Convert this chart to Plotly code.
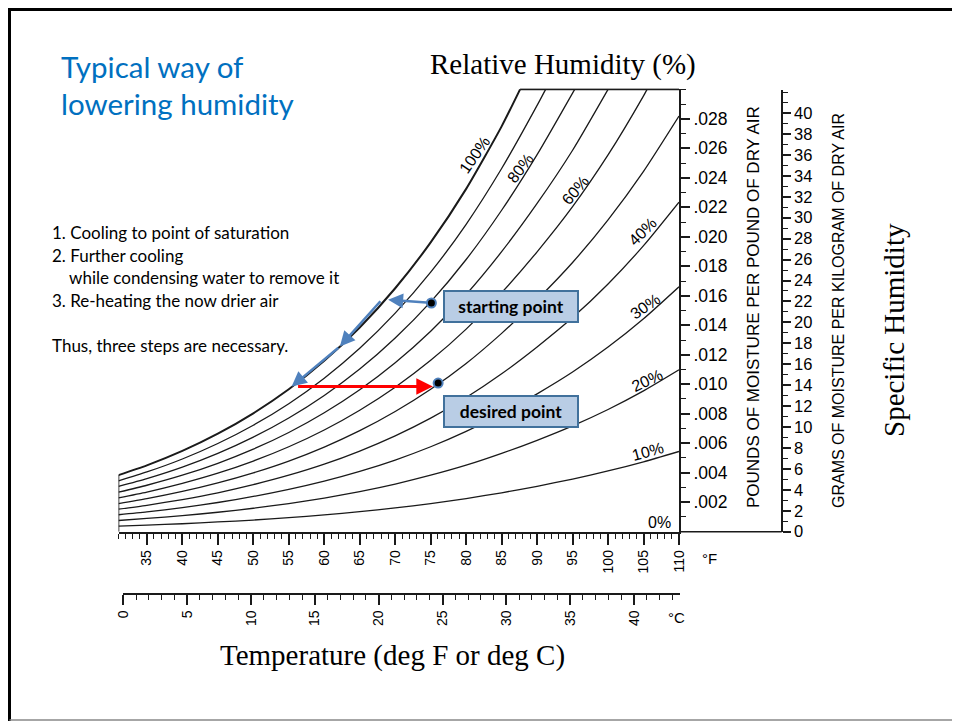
import plotly.graph_objects as go

# ---- data ----
TEMPS_F = [31, 35, 40, 45, 50, 55, 60, 65, 70, 75, 80, 85, 90, 95, 100, 105, 110]

# humidity ratio (lb water / lb dry air) along each relative-humidity curve
RH_10 = [0.00038, 0.00045, 0.00054, 0.00066, 0.00079, 0.00095, 0.00114, 0.00136, 0.00161,
         0.00191, 0.00225, 0.00264, 0.00308, 0.00357, 0.00412, 0.00474, 0.00544]
RH_20 = [0.00076, 0.00090, 0.00109, 0.00132, 0.00159, 0.00191, 0.00228, 0.00272, 0.00323,
         0.00383, 0.00451, 0.00531, 0.00620, 0.00718, 0.00829, 0.00955, 0.01098]
RH_30 = [0.00115, 0.00134, 0.00163, 0.00198, 0.00239, 0.00287, 0.00343, 0.00409, 0.00486,
         0.00576, 0.00680, 0.00800, 0.00935, 0.01083, 0.01252, 0.01444, 0.01661]
RH_40 = [0.00153, 0.00179, 0.00218, 0.00264, 0.00319, 0.00383, 0.00458, 0.00547, 0.00650,
         0.00770, 0.00910, 0.01071, 0.01253, 0.01452, 0.01680, 0.01940, 0.02235]
RH_50 = [0.00191, 0.00224, 0.00273, 0.00331, 0.00399, 0.00479, 0.00574, 0.00685, 0.00815,
         0.00966, 0.01141, 0.01345, 0.01574, 0.01826, 0.02115, 0.02444, 0.02819]
# the upper curves run into the top of the chart, so they end early
RH_60_T = [31, 35, 40, 45, 50, 55, 60, 65, 70, 75, 80, 85, 90, 95, 100, 105, 105.5]
RH_60 = [0.00230, 0.00269, 0.00328, 0.00397, 0.00479, 0.00576, 0.00690, 0.00824, 0.00980,
         0.01162, 0.01374, 0.01621, 0.01898, 0.02204, 0.02555, 0.02956, 0.030]
RH_70_T = [31, 35, 40, 45, 50, 55, 60, 65, 70, 75, 80, 85, 90, 95, 100]
RH_70 = [0.00268, 0.00315, 0.00383, 0.00464, 0.00560, 0.00673, 0.00807, 0.00963, 0.01146,
         0.01360, 0.01609, 0.01899, 0.02226, 0.02587, 0.030]
RH_80_T = [31, 35, 40, 45, 50, 55, 60, 65, 70, 75, 80, 85, 90, 95.3]
RH_80 = [0.00307, 0.00360, 0.00438, 0.00531, 0.00641, 0.00771, 0.00924, 0.01103, 0.01314,
         0.01559, 0.01846, 0.02180, 0.02557, 0.030]
RH_90_T = [31, 35, 40, 45, 50, 55, 60, 65, 70, 75, 80, 85, 90, 91.2]
RH_90 = [0.00345, 0.00405, 0.00493, 0.00598, 0.00722, 0.00868, 0.01041, 0.01244, 0.01482,
         0.01760, 0.02085, 0.02463, 0.02891, 0.030]
RH_100_T = [31, 35, 40, 45, 50, 55, 60, 65, 70, 75, 80, 85, 87.6]
RH_100 = [0.00384, 0.00450, 0.00548, 0.00665, 0.00803, 0.00966, 0.01159, 0.01385, 0.01651,
          0.01962, 0.02325, 0.02749, 0.030]
W_TOP = 0.030

F_TICKS = [35, 40, 45, 50, 55, 60, 65, 70, 75, 80, 85, 90, 95, 100, 105, 110]
C_TICKS = [0, 5, 10, 15, 20, 25, 30, 35, 40]
LB_TICKS = [0.002, 0.004, 0.006, 0.008, 0.010, 0.012, 0.014, 0.016, 0.018, 0.020, 0.022, 0.024, 0.026, 0.028]
LB_LABELS = [".002", ".004", ".006", ".008", ".010", ".012", ".014", ".016", ".018", ".020", ".022", ".024", ".026", ".028"]
G_TICKS = [0, 2, 4, 6, 8, 10, 12, 14, 16, 18, 20, 22, 24, 26, 28, 30, 32, 34, 36, 38, 40]

# dehumidification path: cool to saturation, cool further, reheat
START_F, START_W = 75.1, 0.01551
DESIRED_F, DESIRED_W = 76.05, 0.01008
STEP_FROM_F = [74.6, 68.1, 62.2, 56.1]
STEP_FROM_W = [0.01553, 0.01573, 0.01256, 0.00984]
STEP_TO_F = [69.0, 62.2, 55.4, 75.3]
STEP_TO_W = [0.01573, 0.01256, 0.00984, 0.00984]

# ---- layout helpers (screen pixel -> paper); the page body adds an 8px margin ----
W, H = 960, 721
PAGE_MARGIN = 8


def px(x):
    return (x - PAGE_MARGIN) / W


def py(y):
    return 1 - (y - PAGE_MARGIN) / H


SANS = "Liberation Sans, Arial, sans-serif"
SERIF = "Liberation Serif, Times New Roman, serif"
SLIDE = "Lato, Carlito, sans-serif"
BLUE = "#4F81BD"
INK = "#1a1a1a"

fig = go.Figure()

curves = [
    (TEMPS_F, RH_10), (TEMPS_F, RH_20), (TEMPS_F, RH_30), (TEMPS_F, RH_40), (TEMPS_F, RH_50),
    (RH_60_T, RH_60), (RH_70_T, RH_70), (RH_80_T, RH_80), (RH_90_T, RH_90), (RH_100_T, RH_100),
]
for i, (xs, ys) in enumerate(curves):
    fig.add_trace(go.Scatter(
        x=xs, y=ys, mode="lines", hoverinfo="skip",
        line=dict(color=INK, width=2.0 if i == len(curves) - 1 else 1.3, shape="spline", smoothing=0.6),
    ))

# chart frame: left edge up to the saturation curve, top edge from it to the right axis
fig.add_trace(go.Scatter(x=[TEMPS_F[0], TEMPS_F[0]], y=[0, RH_100[0]], mode="lines",
                         line=dict(color=INK, width=1.6), hoverinfo="skip"))
fig.add_trace(go.Scatter(x=[RH_100_T[-1], TEMPS_F[-1]], y=[W_TOP, W_TOP], mode="lines",
                         line=dict(color=INK, width=2), hoverinfo="skip"))

# start / desired points
fig.add_trace(go.Scatter(x=[START_F, DESIRED_F], y=[START_W, DESIRED_W], mode="markers",
                         marker=dict(size=9, color="black", line=dict(color=BLUE, width=2)),
                         hoverinfo="skip"))

# invisible traces so the extra scales get drawn
fig.add_trace(go.Scatter(x=C_TICKS, y=[None] * len(C_TICKS), xaxis="x2", yaxis="y",
                         mode="markers", marker=dict(opacity=0), hoverinfo="skip"))
fig.add_trace(go.Scatter(x=[None] * len(G_TICKS), y=G_TICKS, xaxis="x", yaxis="y2",
                         mode="markers", marker=dict(opacity=0), hoverinfo="skip"))

ann = []
for k in range(len(STEP_FROM_F)):
    red = k == len(STEP_FROM_F) - 1
    ann.append(dict(x=STEP_TO_F[k], y=STEP_TO_W[k], ax=STEP_FROM_F[k], ay=STEP_FROM_W[k],
                    xref="x", yref="y", axref="x", ayref="y", text="", showarrow=True,
                    arrowhead=2, arrowsize=1.1 if red else 1.2, arrowwidth=3 if red else 2.5,
                    arrowcolor="#FF0000" if red else BLUE))


def label(text, x, y, size, family=SANS, color="black", angle=0, xanchor="center", **kw):
    ann.append(dict(text=text, x=px(x), y=py(y), xref="paper", yref="paper", showarrow=False,
                    textangle=angle, xanchor=xanchor, yanchor="middle",
                    font=dict(family=family, size=size, color=color), **kw))


# slide text
label("Typical way of", 59, 67, 29.5, SLIDE, "#0070C0", xanchor="left")
label("lowering humidity", 59, 104, 29.5, SLIDE, "#0070C0", xanchor="left")
label("1. Cooling to point of saturation", 50, 233, 17, SLIDE, xanchor="left")
label("2. Further cooling", 50, 255, 17, SLIDE, xanchor="left")
label("    while condensing water to remove it", 50, 277, 17, SLIDE, xanchor="left")
label("3. Re-heating the now drier air", 50, 300, 17, SLIDE, xanchor="left")
label("Thus, three steps are necessary.", 50, 345, 17, SLIDE, xanchor="left")

for txt, cy in [("<b>starting point</b>", 306.5), ("<b>desired point</b>", 411.5)]:
    label(txt, 511, cy, 17.5, SLIDE, width=130, height=27, bgcolor="#B9CDE5",
          bordercolor="#41719C", borderwidth=2, borderpad=1)

# chart titles
label("Relative Humidity (%)", 563, 65, 29, SERIF)
label("Temperature (deg F or deg C)", 392, 655, 29, SERIF)
label("Specific Humidity", 894, 330, 29, SERIF, angle=-90)
label("POUNDS OF MOISTURE PER POUND OF DRY AIR", 753, 307, 17, SANS, angle=-90)
label("GRAMS OF MOISTURE PER KILOGRAM OF DRY AIR", 838, 311, 16, SANS, angle=-90)
label("°F", 709, 558, 15)
label("°C", 676, 617, 15)

# curve labels
for txt, x, y, a in [("100%", 474, 155, -55), ("80%", 520, 168, -52), ("60%", 575, 190, -50),
                     ("40%", 643, 232, -45), ("30%", 645, 306, -35), ("20%", 647, 380, -25),
                     ("10%", 648, 452, -15), ("0%", 659, 522, 0)]:
    label(txt, x, y, 16, SANS, angle=a)

tick_font = dict(family=SANS, size=14, color="black")
common = dict(showgrid=False, zeroline=False, automargin=False, showline=True, linecolor=INK,
              ticks="outside", tickcolor=INK, tickwidth=1.6)
fig.update_layout(
    width=W, height=H, margin=dict(l=0, r=0, t=0, b=0, pad=0, autoexpand=False),
    paper_bgcolor="white", plot_bgcolor="rgba(0,0,0,0)", showlegend=False,
    annotations=ann,
    xaxis=dict(domain=[px(118.5), px(679)], range=[31, 110], linewidth=1.6, ticklen=11,
               tickvals=F_TICKS, ticktext=[str(v) for v in F_TICKS], tickangle=-90,
               minor=dict(dtick=1, tick0=0, ticks="outside", ticklen=5, tickwidth=1.3, tickcolor=INK),
               tickfont=tick_font, **common),
    yaxis=dict(domain=[py(531.7), py(88.6)], range=[0, 0.03005], side="right", linewidth=2, ticklen=9,
               tickvals=LB_TICKS, ticktext=LB_LABELS,
               minor=dict(dtick=0.001, tick0=0, ticks="outside", ticklen=5, tickwidth=1.3, tickcolor=INK),
               tickfont=dict(family=SANS, size=17.5, color="black"), **common),
    xaxis2=dict(domain=[px(123.3), px(680)], range=[0, 43.6], anchor="free", position=py(594),
                linewidth=1.6, ticklen=10, tickvals=C_TICKS, ticktext=[str(v) for v in C_TICKS], tickangle=-90,
                minor=dict(dtick=1, tick0=0, ticks="outside", ticklen=5, tickwidth=1.3, tickcolor=INK),
                tickfont=tick_font, **common),
    yaxis2=dict(domain=[py(531.7), py(90)], range=[0, 42.2], anchor="free", position=px(781.7),
                side="right", linewidth=2, ticklen=8, tickvals=G_TICKS, ticktext=[str(v) for v in G_TICKS],
                minor=dict(dtick=1, tick0=0, ticks="outside", ticklen=5, tickwidth=1.3, tickcolor=INK),
                tickfont=dict(family=SANS, size=16.5, color="black"), **common),
    shapes=[
        # baseline continues under the moisture scale
        dict(type="line", xref="paper", yref="paper", x0=px(679), x1=px(781.7), y0=py(531.7), y1=py(531.7),
             line=dict(color=INK, width=1.6)),
        # slide frame (top and left edges, grey bottom edge)
        dict(type="line", xref="paper", yref="paper", x0=0, x1=1, y0=1 - 1.5 / H, y1=1 - 1.5 / H,
             line=dict(color="black", width=3)),
        dict(type="line", xref="paper", yref="paper", x0=1.5 / W, x1=1.5 / W, y0=1, y1=0,
             line=dict(color="black", width=3)),
        dict(type="line", xref="paper", yref="paper", x0=1.5 / W, x1=1, y0=py(720), y1=py(720),
             line=dict(color="#888888", width=1.5)),
    ],
)

fig.write_html("out.html")
